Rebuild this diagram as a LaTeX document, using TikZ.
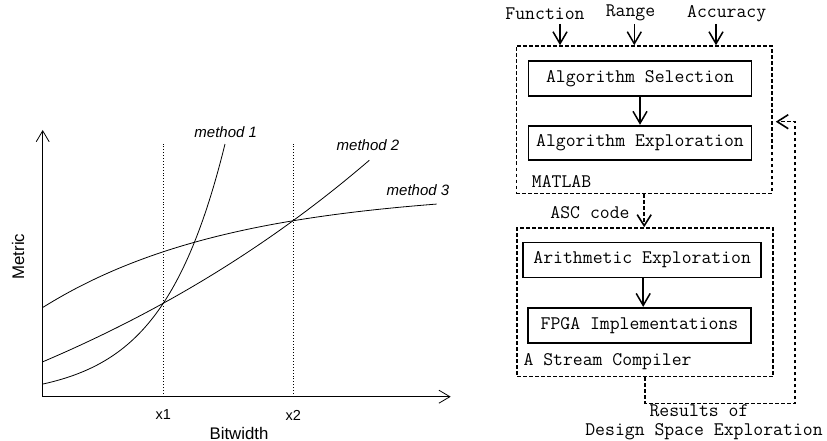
\documentclass[tikz,border=0pt]{standalone}
\usepackage{fontspec}
\usetikzlibrary{arrows.meta, positioning}
\newfontfamily\plotfont{Liberation Sans}

\tikzset{
    axisline/.style={line width=0.8pt, -{Straight Barb[length=11pt, width=13pt]}},
    guide/.style={dotted, line width=0.9pt},
    curve/.style={line width=0.8pt},
    plottext/.style={font={\plotfont\fontsize{14.5}{17}\selectfont}},
    methodtext/.style={font={\plotfont\fontsize{15}{18}\selectfont\itshape}},
    titletext/.style={font={\plotfont\fontsize{16.8}{20}\selectfont}},
    monotext/.style={font={\ttfamily\fontsize{19.2}{17}\selectfont}},
    stagebox/.style={draw, line width=1.8pt, minimum width=#1, minimum height=35pt,
        inner sep=0pt, monotext},
    toolbox/.style={draw, line width=1.6pt, dash pattern=on 3.5pt off 2.5pt, inner sep=0pt},
    flowarrow/.style={line width=1.5pt, -{Straight Barb[length=12pt, width=14pt]}},
    dashedarrow/.style={line width=1.6pt, dash pattern=on 3.5pt off 2.5pt,
        -{Straight Barb[length=11pt, width=14pt]}}
}

\begin{document}
\begin{tikzpicture}[x=1pt, y=-1pt]
    \useasboundingbox (0,0) rectangle (827,441);

    % Axes of the plot
    \coordinate (origin) at (42.7,396.7);
    \coordinate (ytip) at (42.7,130);
    \coordinate (xtip) at (450.7,396.7);
    \draw[axisline] (origin) -- (ytip);
    \draw[axisline] (origin) -- (xtip);
    \node[titletext] (bitwidth) at (239,433) {Bitwidth};
    \node[titletext, rotate=90] (metric) at (18,256.7) {Metric};

    % Bitwidths x1 and x2
    \coordinate (xa) at (163.3,396.7);
    \coordinate (xb) at (293.3,396.7);
    \draw[guide] (xa) -- ++(0,-254);
    \draw[guide] (xb) -- ++(0,-254);
    \node[plottext] (xalabel) at (163.3,415) {x1};
    \node[plottext] (xblabel) at (293.3,415) {x2};

    % Metric of the three methods
    \draw[curve] plot[domain=43:225, samples=80]
        (\x, {384 - 13.78*(exp(0.016*(\x-43))-1)});
    \draw[curve] plot[domain=43:369.3, samples=80]
        (\x, {361.7 - 197.9*(exp(0.00215*(\x-43))-1)});
    \draw[curve] plot[domain=43:436.7, samples=80]
        (\x, {307.3 - 117.9*(1-exp(-0.0053*(\x-43)))});
    \node[methodtext] (methoda) at (225.7,132.3) {method 1};
    \node[methodtext] (methodb) at (368,145) {method 2};
    \node[methodtext] (methodc) at (418,190) {method 3};

    % MATLAB stage
    \node[toolbox, minimum width=255.5pt, minimum height=147.5pt] (matlab) at (644.2,119.75) {};
    \node[stagebox=223pt] (select) at (640,78.3) {Algorithm Selection};
    \node[stagebox=223pt, minimum height=34pt] (explore) at (640,142.7) {Algorithm Exploration};
    \node[monotext, anchor=west, inner sep=0pt] (matlabname) at (531.7,181) {MATLAB};
    \draw[flowarrow] (select) -- (explore);

    % Inputs
    \node[monotext] (function) at (545,13.3) {Function};
    \node[monotext] (range) at (630.5,13.3) {Range};
    \node[monotext] (accuracy) at (726.7,13.3) {Accuracy};
    \coordinate (functionin) at (560,24);
    \coordinate (rangein) at (634.3,24);
    \coordinate (accuracyin) at (716,24);
    \draw[flowarrow] (functionin) -- (functionin |- matlab.north);
    \draw[flowarrow] (rangein) -- (rangein |- matlab.north);
    \draw[flowarrow] (accuracyin) -- (accuracyin |- matlab.north);

    % A Stream Compiler stage
    \node[toolbox, minimum width=256pt, minimum height=148.7pt] (asc) at (645,302.3) {};
    \node[stagebox=237.7pt] (arith) at (642.2,260) {Arithmetic Exploration};
    \node[stagebox=222.4pt] (fpga) at (639.5,325.3) {FPGA Implementations};
    \node[monotext, anchor=west, inner sep=0pt] (ascname) at (523.3,362) {A Stream Compiler};
    \draw[flowarrow] ([xshift=1pt]arith.south) -- ([xshift=1pt]arith.south |- fpga.north);

    % ASC code passed on
    \draw[dashedarrow] (matlab.south) -- (matlab.south |- asc.north);
    \node[monotext] (asccode) at (590,213) {ASC code};

    % Results fed back
    \coordinate (feedtop) at (795,121.7);
    \draw[dashedarrow] (asc.south) -- ++(0,26) -| (feedtop)
        -- ([xshift=3pt]matlab.east |- feedtop);
    \node[monotext, inner sep=0pt] (results) at (699,411) {Results of};
    \node[monotext, inner sep=0pt] (design) at (704,431.5) {Design Space Exploration};
\end{tikzpicture}
\end{document}
